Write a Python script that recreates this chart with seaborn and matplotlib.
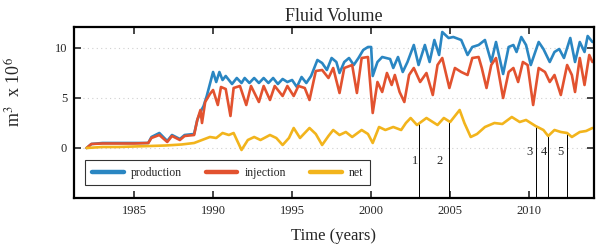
import numpy as np
import pandas as pd
import matplotlib
matplotlib.use("Agg")
import matplotlib.pyplot as plt
import seaborn as sns

# ---------------- data ----------------
prod_years = [1982.0, 1982.3, 1983.0, 1984.0, 1985.0, 1985.9, 1986.1, 1986.6, 1987.1, 1987.4,
              1987.9, 1988.2, 1988.8, 1989.0, 1989.2, 1989.4, 1989.6, 1989.8, 1990.0, 1990.2,
              1990.4, 1990.6, 1990.8, 1991.0, 1991.2, 1991.5, 1991.8, 1992.0, 1992.3, 1992.6,
              1992.9, 1993.2, 1993.5, 1993.8, 1994.1, 1994.4, 1994.7, 1995.0, 1995.3, 1995.6,
              1995.9, 1996.2, 1996.6, 1996.9, 1997.2, 1997.5, 1997.8, 1998.0, 1998.3, 1998.6,
              1998.9, 1999.2, 1999.5, 1999.8, 2000.0, 2000.1, 2000.4, 2000.7, 2001.2, 2001.4,
              2001.7, 2002.0, 2002.3, 2002.7, 2003.0, 2003.4, 2003.7, 2004.0, 2004.3, 2004.5,
              2004.9, 2005.2, 2005.7, 2006.1, 2006.4, 2006.8, 2007.2, 2007.6, 2007.9, 2008.35,
              2008.7, 2009.0, 2009.2, 2009.5, 2009.8, 2010.1, 2010.6, 2010.9, 2011.3, 2011.6,
              2011.9, 2012.2, 2012.6, 2012.9, 2013.2, 2013.5, 2013.7, 2014.0]
prod_vals = [0.0, 0.4, 0.5, 0.5, 0.5, 0.5, 1.1, 1.5, 0.7, 1.3,
             0.9, 1.3, 1.4, 2.8, 3.6, 4.2, 5.2, 6.4, 7.6, 6.6,
             7.6, 6.8, 7.2, 6.8, 6.4, 7.0, 6.5, 7.0, 6.5, 7.0,
             6.5, 7.0, 6.5, 7.0, 6.4, 6.9, 6.6, 6.8, 6.1, 7.1,
             6.5, 7.2, 8.8, 8.5, 7.8, 9.0, 8.6, 7.5, 8.6, 9.0,
             8.3, 9.0, 9.8, 10.1, 10.1, 7.2, 8.6, 9.1, 8.9, 8.0,
             9.1, 7.6, 8.6, 10.3, 8.3, 10.3, 8.6, 10.8, 9.3, 11.6,
             11.0, 11.1, 10.8, 9.3, 10.1, 10.3, 10.8, 8.6, 10.6, 7.4,
             10.1, 10.3, 9.6, 11.1, 10.3, 8.3, 10.6, 9.9, 8.6, 9.6,
             9.9, 9.0, 11.0, 8.6, 10.6, 9.6, 11.2, 10.6]

inj_years = [1982.0, 1982.3, 1983.0, 1984.0, 1985.0, 1985.9, 1986.1, 1986.6, 1987.1, 1987.4,
             1987.9, 1988.2, 1988.8, 1989.0, 1989.2, 1989.3, 1989.5, 1989.8, 1990.0, 1990.3,
             1990.5, 1990.8, 1991.1, 1991.3, 1991.7, 1992.1, 1992.4, 1992.9, 1993.2, 1993.6,
             1993.9, 1994.4, 1994.7, 1995.1, 1995.4, 1995.8, 1996.1, 1996.5, 1996.9, 1997.3,
             1997.6, 1998.0, 1998.3, 1998.8, 1999.1, 1999.4, 1999.8, 2000.1, 2000.4, 2000.7,
             2001.0, 2001.3, 2001.5, 2001.8, 2002.1, 2002.4, 2002.7, 2003.1, 2003.5, 2003.9,
             2004.2, 2004.5, 2004.95, 2005.3, 2005.7, 2006.1, 2006.4, 2006.8, 2007.0, 2007.3,
             2007.6, 2007.9, 2008.35, 2008.7, 2009.0, 2009.3, 2009.6, 2009.9, 2010.25, 2010.6,
             2011.0, 2011.3, 2011.6, 2012.0, 2012.4, 2012.7, 2012.9, 2013.2, 2013.5, 2013.8,
             2014.0]
inj_vals = [0.0, 0.4, 0.45, 0.45, 0.45, 0.5, 1.0, 1.3, 0.6, 1.2,
            0.8, 1.2, 1.3, 2.8, 3.8, 2.5, 4.6, 5.4, 5.8, 4.3,
            6.1, 5.9, 3.2, 6.0, 6.2, 4.3, 6.2, 4.6, 6.2, 4.8,
            6.2, 5.2, 6.2, 5.2, 6.2, 6.0, 4.8, 7.7, 7.8, 7.0,
            8.0, 5.5, 8.0, 8.3, 5.5, 9.0, 9.1, 3.5, 6.6, 5.6,
            7.5, 6.3, 7.3, 5.6, 4.6, 7.3, 8.0, 6.6, 7.5, 5.3,
            8.3, 9.0, 6.0, 8.0, 7.6, 7.3, 9.0, 9.1, 8.0, 6.0,
            8.3, 9.0, 5.0, 7.6, 8.0, 6.6, 8.6, 8.3, 4.3, 8.0,
            7.6, 6.6, 7.3, 5.3, 8.3, 7.3, 5.6, 9.0, 6.3, 9.3,
            8.6]

net_years = [1982.0, 1983.0, 1984.0, 1985.0, 1986.0, 1987.0, 1988.0, 1988.8, 1989.3, 1989.8,
             1990.2, 1990.6, 1991.0, 1991.3, 1991.8, 1992.2, 1992.6, 1993.0, 1993.6, 1994.0,
             1994.4, 1994.8, 1995.1, 1995.5, 1996.1, 1996.5, 1996.9, 1997.3, 1997.6, 1998.0,
             1998.4, 1998.8, 1999.4, 1999.8, 2000.1, 2000.5, 2000.9, 2001.4, 2001.9, 2002.2,
             2002.5, 2002.9, 2003.5, 2003.8, 2004.2, 2004.6, 2005.0, 2005.6, 2005.9, 2006.3,
             2006.7, 2007.2, 2007.8, 2008.3, 2008.9, 2009.4, 2009.8, 2010.4, 2010.9, 2011.2,
             2011.6, 2012.0, 2012.4, 2012.7, 2013.2, 2013.6, 2014.0]
net_vals = [0.0, 0.1, 0.1, 0.15, 0.2, 0.25, 0.35, 0.5, 0.8, 1.1,
            1.0, 1.5, 1.3, 1.5, -0.2, 0.8, 1.1, 0.8, 1.3, 1.0,
            0.3, 1.0, 2.0, 1.0, 2.0, 1.4, 0.3, 1.2, 1.8, 1.3,
            1.6, 1.1, 1.8, 1.4, 0.5, 2.1, 1.8, 2.1, 1.8, 2.5,
            3.0, 2.3, 3.0, 2.7, 2.3, 3.0, 2.6, 3.8, 2.5, 1.1,
            1.4, 2.1, 2.5, 2.4, 3.1, 2.6, 2.8, 2.2, 1.8, 1.2,
            1.8, 1.6, 1.5, 1.1, 1.6, 1.7, 2.0]

series_names = ["production", "injection", "net"]
series_colors = ["#2a86c2", "#e2522f", "#f2b41c"]

event_years = [2003.0, 2004.9, 2010.4, 2011.2, 2012.4]
event_labels = ["1", "2", "3", "4", "5"]
event_label_years = [2002.75, 2004.3, 2010.05, 2010.9, 2012.0]
event_label_values = [-1.3, -1.3, -0.4, -0.4, -0.4]

x_ticks = [1985, 1990, 1995, 2000, 2005, 2010]
y_ticks = [0, 5, 10]

# ---------------- styling ----------------
sns.set_style("ticks")
plt.rcParams["font.family"] = ["Liberation Serif", "DejaVu Serif"]
plt.rcParams["mathtext.fontset"] = "stix"

df = pd.concat([
    pd.DataFrame({"year": prod_years, "value": prod_vals, "series": "production"}),
    pd.DataFrame({"year": inj_years, "value": inj_vals, "series": "injection"}),
    pd.DataFrame({"year": net_years, "value": net_vals, "series": "net"}),
], ignore_index=True)

fig = plt.figure(figsize=(6.0, 2.47), dpi=100)
ax = fig.add_axes([0.1233, 0.1984, 0.8667, 0.6923])

sns.lineplot(data=df, x="year", y="value", hue="series", hue_order=series_names,
             palette=dict(zip(series_names, series_colors)), estimator=None,
             sort=True, linewidth=1.9, ax=ax, legend=True)

ax.set_xlim(1981.2, 2014.1)
ax.set_ylim(-5.0, 12.1)
ax.set_xticks(x_ticks)
ax.set_yticks(y_ticks)
ax.tick_params(direction="in", length=5, width=1.2, top=True, right=True,
               labelsize=9, pad=5)
for s in ax.spines.values():
    s.set_linewidth(1.6)
    s.set_color("black")

ax.yaxis.grid(True, linestyle=(0, (1, 3)), color="#d0d0d0", linewidth=0.8)

# event markers
for yr, lab, lx, ly in zip(event_years, event_labels, event_label_years, event_label_values):
    top = float(np.interp(yr, net_years, net_vals))
    ax.plot([yr, yr], [-5.0, top], color="black", linewidth=0.7, zorder=1)
    ax.text(lx, ly, lab, ha="center", va="center", fontsize=9)

ax.set_title("Fluid Volume", fontsize=13, pad=4)
ax.set_xlabel("Time (years)", fontsize=12, labelpad=8)
ax.set_ylabel("m$^{3}$  x 10$^{6}$", fontsize=13)
ax.yaxis.set_label_coords(-0.095, 0.62)

handles, labels = ax.get_legend_handles_labels()
for h in handles:
    h.set_linewidth(3.2)
leg = ax.legend(handles, labels, loc="lower left", bbox_to_anchor=(0.022, 0.075),
                ncol=3, frameon=True, fancybox=False, fontsize=8.5,
                handlelength=2.7, columnspacing=2.0, handletextpad=0.6,
                borderpad=0.55, borderaxespad=0)
leg.get_frame().set_edgecolor("black")
leg.get_frame().set_linewidth(0.8)

fig.savefig("out.png", dpi=100)
